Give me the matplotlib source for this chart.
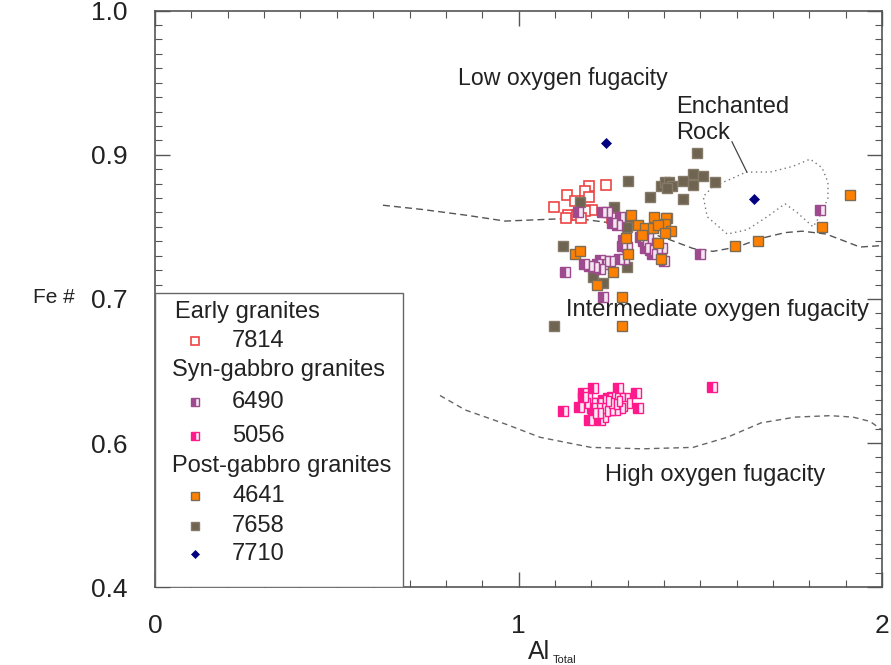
import matplotlib
matplotlib.use('Agg')
import matplotlib.pyplot as plt
from matplotlib.ticker import MultipleLocator, FixedLocator, FixedFormatter
from matplotlib.patches import Rectangle

plt.rcParams['font.family'] = ['Liberation Sans', 'DejaVu Sans']

# biotite analyses, Al total vs Fe#
early_7814_al = [1.241, 1.194, 1.183, 1.194, 1.133, 1.155, 1.098, 1.202, 1.183, 1.136, 1.161, 1.131, 1.172, 1.257]
early_7814_fe = [0.879, 0.878, 0.875, 0.871, 0.872, 0.868, 0.864, 0.862, 0.861, 0.858, 0.858, 0.856, 0.856, 0.856]

syn_6490_al = [1.164, 1.230, 1.243, 1.257, 1.279, 1.271, 1.287, 1.285, 1.298, 1.334,
               1.343, 1.356, 1.367, 1.348, 1.362, 1.367, 1.389, 1.381, 1.395, 1.400,
               1.276, 1.224, 1.216, 1.232, 1.208, 1.180, 1.194, 1.238, 1.252, 1.224,
               1.290, 1.128, 1.232, 1.499, 1.829]
syn_6490_fe = [0.860, 0.860, 0.860, 0.853, 0.857, 0.851, 0.841, 0.837, 0.836, 0.843,
               0.840, 0.842, 0.839, 0.835, 0.834, 0.831, 0.832, 0.835, 0.835, 0.826,
               0.828, 0.827, 0.824, 0.824, 0.822, 0.824, 0.823, 0.826, 0.826, 0.821,
               0.828, 0.819, 0.801, 0.831, 0.862]

syn_5056_al = [1.177, 1.205, 1.274, 1.323, 1.122, 1.166, 1.329, 1.194, 1.224, 1.232,
               1.188, 1.202, 1.219, 1.232, 1.246, 1.257, 1.265, 1.279, 1.293, 1.285,
               1.271, 1.257, 1.243, 1.230, 1.216, 1.202, 1.205, 1.219, 1.238, 1.252,
               1.265, 1.279, 1.298, 1.183, 1.177, 1.532, 1.250, 1.262, 1.240, 1.270]
syn_5056_fe = [0.735, 0.738, 0.738, 0.735, 0.722, 0.725, 0.724, 0.716, 0.716, 0.718,
               0.731, 0.728, 0.728, 0.730, 0.731, 0.732, 0.731, 0.731, 0.731, 0.726,
               0.724, 0.724, 0.726, 0.724, 0.724, 0.724, 0.721, 0.721, 0.722, 0.723,
               0.723, 0.724, 0.728, 0.728, 0.732, 0.739, 0.728, 0.727, 0.729, 0.729]

post_4641_al = [1.310, 1.373, 1.406, 1.403, 1.329, 1.348, 1.370, 1.384, 1.420, 1.403,
                1.340, 1.296, 1.384, 1.301, 1.392, 1.155, 1.169, 1.260, 1.216, 1.285,
                1.285, 1.596, 1.659, 1.835, 1.912]
post_4641_fe = [0.858, 0.857, 0.856, 0.852, 0.851, 0.849, 0.849, 0.851, 0.847, 0.846,
                0.844, 0.842, 0.839, 0.831, 0.828, 0.831, 0.833, 0.819, 0.810, 0.801,
                0.781, 0.837, 0.840, 0.850, 0.872]

post_7658_al = [1.491, 1.301, 1.453, 1.480, 1.508, 1.541, 1.392, 1.403, 1.414, 1.422,
                1.409, 1.480, 1.362, 1.453, 1.169, 1.263, 1.307, 1.304, 1.298, 1.409,
                1.298, 1.205, 1.232, 1.122, 1.098]
post_7658_fe = [0.901, 0.882, 0.882, 0.887, 0.885, 0.881, 0.878, 0.881, 0.881, 0.878,
                0.877, 0.879, 0.871, 0.869, 0.867, 0.864, 0.857, 0.853, 0.850, 0.856,
                0.822, 0.815, 0.811, 0.837, 0.781]

post_7710_al = [1.241, 1.648]
post_7710_fe = [0.908, 0.869]

# oxygen fugacity boundaries
upper_al = [0.627, 0.737, 0.858, 0.963, 1.059, 1.155, 1.246, 1.320, 1.406, 1.480,
            1.535, 1.601, 1.667, 1.733, 1.780, 1.846, 1.898, 1.939, 2.000]
upper_fe = [0.865, 0.862, 0.858, 0.854, 0.855, 0.856, 0.853, 0.849, 0.842, 0.835,
            0.833, 0.836, 0.842, 0.846, 0.847, 0.845, 0.840, 0.836, 0.837]
lower_al = [0.784, 0.853, 0.966, 1.059, 1.199, 1.340, 1.480, 1.574, 1.667, 1.761,
            1.857, 1.920, 1.967, 2.000]
lower_fe = [0.733, 0.723, 0.713, 0.704, 0.697, 0.696, 0.697, 0.704, 0.714, 0.718,
            0.719, 0.718, 0.715, 0.709]

# Enchanted Rock field
er_al = [1.626, 1.692, 1.755, 1.802, 1.835, 1.851, 1.851, 1.835, 1.810, 1.766,
         1.733, 1.684, 1.629, 1.574, 1.519, 1.508, 1.535, 1.582, 1.626]
er_fe = [0.888, 0.888, 0.892, 0.897, 0.891, 0.881, 0.870, 0.860, 0.850, 0.860,
         0.866, 0.857, 0.848, 0.845, 0.857, 0.871, 0.878, 0.883, 0.888]

y_ticks = [0.6, 0.7, 0.8, 0.9, 1.0]
y_tick_labels = ['0.4', '0.6', '0.7', '0.9', '1.0']
x_ticks = [0, 1, 2]

txt = '#222222'
frame = '#555555'

fig = plt.figure(figsize=(8.91, 6.65), dpi=100)
ax = fig.add_axes([0.174, 0.117, 0.816, 0.867])

ax.plot(upper_al, upper_fe, ls=(0, (5, 3)), color='#555555', lw=1.0)
ax.plot(lower_al, lower_fe, ls=(0, (4, 3)), color='#666666', lw=1.0)
ax.plot(er_al, er_fe, ls=(0, (1, 2.5)), color='#777777', lw=1.0)
ax.plot([1.587, 1.628], [0.909, 0.888], color='#444444', lw=0.9)

styles = {
    '7814': dict(marker='s', ms=6.5, mfc='white', mec='#ee4444', mew=1.2),
    '6490': dict(marker='s', ms=7, mfc='#9e4a8e', mec='#9e4a8e', fillstyle='left',
                 markerfacecoloralt='#f3e6f0', mew=1.0),
    '5056': dict(marker='s', ms=7, mfc='#ff1a8c', mec='#ff1a8c', fillstyle='left',
                 markerfacecoloralt='#ffe8f3', mew=1.0),
    '4641': dict(marker='s', ms=7, mfc='#ff8000', mec='#7c6c55', mew=1.0),
    '7658': dict(marker='s', ms=7, mfc='#6f6351', mec='#857a68', mew=1.0),
    '7710': dict(marker='D', ms=5.5, mfc='#000080', mec='#000080', mew=0.5),
}

ax.plot(early_7814_al, early_7814_fe, ls='none', **styles['7814'])
ax.plot(post_7658_al, post_7658_fe, ls='none', **styles['7658'])
ax.plot(syn_6490_al, syn_6490_fe, ls='none', **styles['6490'])
ax.plot(post_4641_al, post_4641_fe, ls='none', **styles['4641'])
ax.plot(syn_5056_al, syn_5056_fe, ls='none', **styles['5056'])
ax.plot(post_7710_al, post_7710_fe, ls='none', **styles['7710'])

fs = 17
ax.text(0.834, 0.953, 'Low oxygen fugacity', fontsize=16.7, color=txt, va='center')
ax.text(1.433, 0.933, 'Enchanted', fontsize=fs, color=txt, va='center')
ax.text(1.433, 0.915, 'Rock', fontsize=fs, color=txt, va='center')
ax.text(1.131, 0.792, 'Intermediate oxygen fugacity', fontsize=fs, color=txt, va='center')
ax.text(1.238, 0.678, 'High oxygen fugacity', fontsize=fs, color=txt, va='center')

# legend box drawn by hand
ax.add_patch(Rectangle((0, 0), 0.341, 0.510, transform=ax.transAxes, fill=True,
                       facecolor='white', edgecolor='#666666', lw=1.0, zorder=5))
legend_rows = [
    ('Early granites', None, 0.477),
    ('7814', '7814', 0.427),
    ('Syn-gabbro granites', None, 0.377),
    ('6490', '6490', 0.321),
    ('5056', '5056', 0.262),
    ('Post-gabbro granites', None, 0.210),
    ('4641', '4641', 0.158),
    ('7658', '7658', 0.106),
    ('7710', '7710', 0.057),
]
for label, key, yy in legend_rows:
    if key is None:
        x0 = 0.0275 if label.startswith('Early') else 0.023
        ax.text(x0, yy, label, transform=ax.transAxes, fontsize=fs, color=txt,
                va='center', zorder=6)
    else:
        st = dict(styles[key])
        st['ms'] = st['ms'] * 0.8
        ax.plot([0.055], [yy], transform=ax.transAxes, ls='none', zorder=6,
                clip_on=False, **st)
        ax.text(0.106, yy, label, transform=ax.transAxes, fontsize=fs, color=txt,
                va='center', zorder=6)

ax.set_xlim(0, 2)
ax.set_ylim(0.6, 1.0)
ax.xaxis.set_major_locator(FixedLocator(x_ticks))
ax.xaxis.set_minor_locator(MultipleLocator(0.1))
ax.yaxis.set_major_locator(FixedLocator(y_ticks))
ax.yaxis.set_major_formatter(FixedFormatter(y_tick_labels))
ax.yaxis.set_minor_locator(MultipleLocator(0.01))

ax.tick_params(which='both', direction='in', top=True, right=True, colors=frame,
               labelcolor=txt, labelsize=19)
ax.tick_params(which='major', length=11, width=1.0)
ax.tick_params(which='minor', length=5, width=0.8)
ax.tick_params(axis='x', pad=19)
ax.tick_params(axis='y', pad=20)
for sp in ax.spines.values():
    sp.set_color(frame)
    sp.set_linewidth(1.2)

ax.set_ylabel('Fe #', fontsize=15, color=txt, rotation=0, ha='center', va='center')
ax.yaxis.set_label_coords(-0.139, 0.502)

# x label: "Al" with a small "Total" subscript
ax.set_xlabel('Al', fontsize=18, color=txt, ha='left', va='center')
ax.xaxis.set_label_coords(0.513, -0.113)
ax.text(0.547, -0.127, 'Total', transform=ax.transAxes, fontsize=8, color=txt,
        ha='left', va='center')

fig.savefig('out.png', dpi=100)
